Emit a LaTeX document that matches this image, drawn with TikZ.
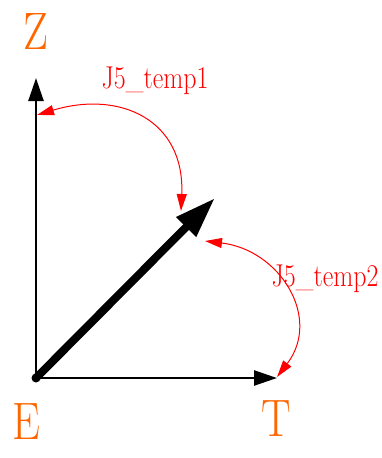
\documentclass[tikz,border=0pt]{standalone}
\usepackage{fontspec}
\usetikzlibrary{arrows.meta}
\newcommand\narrowtxt[1]{\scalebox{0.84}[1]{#1}}
\definecolor{axlab}{RGB}{255,102,0}
\definecolor{anglab}{RGB}{255,0,0}
\begin{document}
\begin{tikzpicture}[x=1pt,y=-1pt,
  axis/.style={line width=2.5pt,-{Triangle[length=23pt,width=15pt]}},
  vec/.style={line width=8pt,-{Triangle[length=41pt,width=26pt]}},
  angarc/.style={anglab,line width=1pt,{Triangle[length=17pt,width=10pt]}-{Triangle[length=17pt,width=10pt]}},
  axname/.style={anchor=base,inner sep=0pt,text=axlab,font=\rmfamily\fontsize{52.7}{53}\selectfont},
  angname/.style={anchor=base,inner sep=0pt,text=anglab,font=\rmfamily\fontsize{31.6}{32}\selectfont}]
\useasboundingbox (0,0) rectangle (381,458);
\coordinate (E) at (36,378);
\coordinate (Zt) at (36,78);
\coordinate (Tt) at (277,378);
\coordinate (Vt) at (215,198);
\coordinate (a1s) at (37,115);
\coordinate (a1e) at (181,211);
\coordinate (a2s) at (205,241);
\coordinate (a2e) at (277,377);
\draw[axis] (E) -- (Zt);
\draw[axis] (E) -- (Tt);
\draw[vec] (E) -- (Vt);
\fill (E) circle (4.5);
\draw[angarc] (a1s) .. controls (120,90) and (185,120) .. (a1e);
\draw[angarc] (a2s) .. controls (280,250) and (322,318) .. (a2e);
\node[axname] (Zl) at (36,49.3) {\narrowtxt{Z}};
\node[axname] (El) at (26.5,439) {\narrowtxt{E}};
\node[axname] (Tl) at (276,436) {\narrowtxt{T}};
\node[angname] (l1) at (155,88.3) {\scalebox{0.82}[1]{J5\_temp1}};
\node[angname] (l2) at (325,286.5) {\scalebox{0.82}[1]{J5\_temp2}};
\end{tikzpicture}
\end{document}
